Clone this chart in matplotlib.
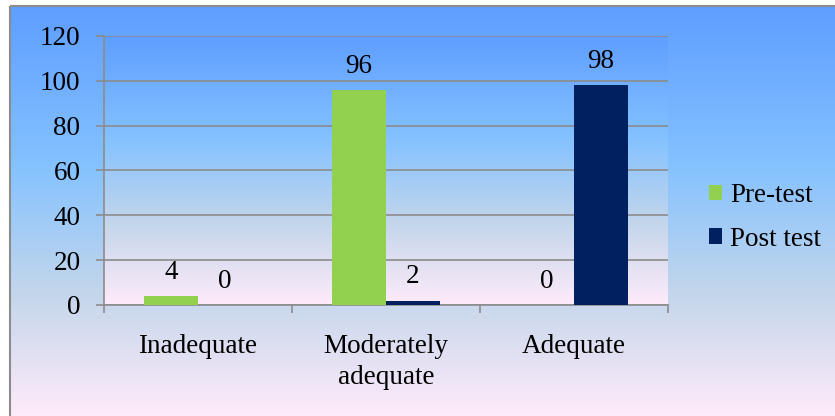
import numpy as np
import matplotlib
matplotlib.use("Agg")
import matplotlib.pyplot as plt
from matplotlib.colors import LinearSegmentedColormap
from matplotlib.patches import Rectangle

categories = ["Inadequate", "Moderately\nadequate", "Adequate"]
series_names = ["Pre-test", "Post test"]
pre_test = [4, 96, 0]
post_test = [0, 2, 98]
y_ticks = [0, 20, 40, 60, 80, 100, 120]

GREEN = "#92D050"
NAVY = "#002060"
GRID = "#8C8C8C"

plt.rcParams["font.family"] = ["Liberation Serif", "DejaVu Serif"]
FS = 19.5

W, H = 835, 416
fig = plt.figure(figsize=(W / 100, H / 100), dpi=100)
fig.patch.set_facecolor("white")

# "Daybreak" style vertical gradient: blue -> light blue -> lavender -> pink
daybreak = LinearSegmentedColormap.from_list(
    "daybreak",
    [(0.0, "#5E9EFF"), (0.39, "#85C2FF"), (0.70, "#C4D6EB"), (1.0, "#FFEBFA")],
)
grad = np.linspace(0, 1, 256).reshape(-1, 1)

# chart-area background (pixel coordinates, y downward)
bg = fig.add_axes([0, 0, 1, 1], zorder=-2)
bg.set_xlim(0, W)
bg.set_ylim(H, 0)
bg.axis("off")
bg.imshow(grad, cmap=daybreak, aspect="auto", extent=(10, W + 2, H + 2, 6), zorder=0)
bg.add_patch(Rectangle((10, 6), W, H, fill=False, edgecolor=GRID, lw=1.5, zorder=2))

# plot area
L, T, R, B = 104, 36, 668, 305
ax = fig.add_axes([L / W, (H - B) / H, (R - L) / W, (B - T) / H])
ax.set_xlim(-0.5, 2.5)
ax.set_ylim(0, 120)
ax.imshow(grad, cmap=daybreak, aspect="auto", extent=(-0.5, 2.5, 0, 120), zorder=0)

x = np.arange(len(categories))
bw = 54 / 188
b1 = ax.bar(x - bw / 2, pre_test, bw, color=GREEN, label=series_names[0], zorder=3)
b2 = ax.bar(x + bw / 2, post_test, bw, color=NAVY, label=series_names[1], zorder=3)

for bars, vals in ((b1, pre_test), (b2, post_test)):
    for rect, v in zip(bars, vals):
        ax.annotate(f"{v}", (rect.get_x() + rect.get_width() / 2, v),
                    xytext=(0, 17), textcoords="offset points",
                    ha="center", va="center", fontsize=FS, color="black", zorder=4)

ax.set_yticks(y_ticks)
ax.yaxis.grid(True, color=GRID, lw=1.2, zorder=1)
ax.set_axisbelow(True)
ax.tick_params(axis="y", length=6, width=1.2, color=GRID, pad=11, labelsize=FS)

ax.set_xticks([-0.5, 0.5, 1.5, 2.5])
ax.set_xticklabels([])
ax.set_xticks(x, minor=True)
ax.set_xticklabels(categories, minor=True, fontsize=FS, linespacing=1.3)
ax.tick_params(axis="x", which="major", length=6, width=1.2, color=GRID)
ax.tick_params(axis="x", which="minor", length=0, pad=21)

for s in ("top", "right"):
    ax.spines[s].set_visible(False)
for s in ("left", "bottom"):
    ax.spines[s].set_color(GRID)
    ax.spines[s].set_linewidth(1.2)

fig.legend(handles=[b1, b2], labels=series_names, loc="upper left",
           bbox_to_anchor=(698 / W, 1 - 172 / H), frameon=False, fontsize=FS,
           handlelength=0.5, handleheight=0.5, handletextpad=0.3,
           labelspacing=0.7, borderaxespad=0)

fig.savefig("out.png", dpi=100)
